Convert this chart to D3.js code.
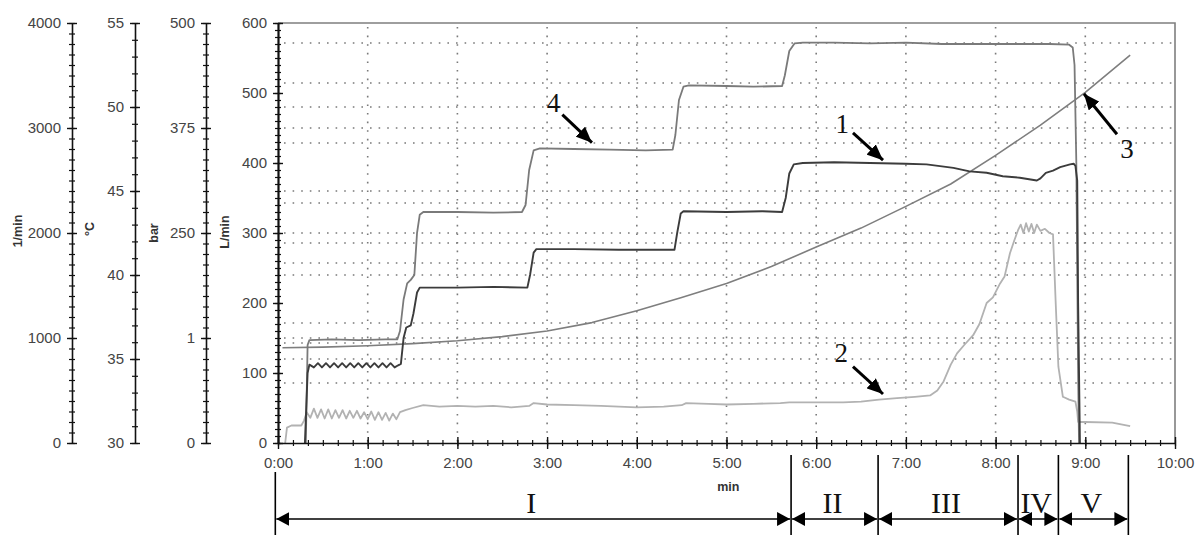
<!DOCTYPE html>
<html><head><meta charset="utf-8">
<script src="https://cdn.jsdelivr.net/npm/d3@7"></script>
<style>body{margin:0;background:#fff}</style>
</head><body><svg id="c" width="1195" height="535"></svg>
<script>
// ---- data (time in minutes, value in L/min-axis units) ----
const series1 = [[0.30,0],[0.33,100],[0.35,112],[0.40,108],[0.445,114],[0.49,108],[0.535,114],[0.58,108],[0.625,114],[0.67,108],[0.715,114],[0.76,108],[0.805,114],[0.85,108],[0.895,114],[0.94,108],[0.985,114],[1.03,108],[1.075,114],[1.12,108],[1.165,114],[1.21,108],[1.255,114],[1.30,108],[1.34,111],[1.37,113],[1.40,150],[1.43,165],[1.48,168],[1.51,185],[1.55,215],[1.58,222],[2.0,222],[2.4,223],[2.78,222],[2.81,240],[2.85,272],[2.88,277],[3.3,277],[3.8,276],[4.42,276],[4.45,300],[4.49,328],[4.52,331],[5.0,330],[5.4,331],[5.62,330],[5.66,350],[5.70,385],[5.75,398],[5.85,400],[6.2,401],[6.6,400],[7.0,399],[7.23,398],[7.53,393],[7.71,388],[7.90,386],[8.08,381],[8.27,379],[8.46,375],[8.50,378],[8.56,386],[8.64,389],[8.72,394],[8.83,398],[8.87,399],[8.89,396],[8.91,375],[8.92,200],[8.94,0]];
const series2 = [[0.08,0],[0.10,22],[0.15,25],[0.26,25],[0.29,32],[0.32,44],[0.36,36],[0.40,49],[0.44,36],[0.48,48],[0.52,35],[0.56,48],[0.60,35],[0.64,47],[0.68,36],[0.72,47],[0.76,35],[0.80,46],[0.84,36],[0.88,46],[0.92,35],[0.96,44],[1.00,34],[1.04,45],[1.08,33],[1.12,44],[1.16,33],[1.20,43],[1.24,32],[1.28,42],[1.32,34],[1.36,44],[1.42,47],[1.50,50],[1.62,54],[1.8,52],[2.0,53],[2.2,52],[2.4,53],[2.6,51],[2.8,53],[2.85,57],[3.0,55],[3.3,54],[3.6,53],[4.0,51],[4.3,52],[4.5,54],[4.55,57],[4.8,56],[5.0,55],[5.3,56],[5.6,57],[5.7,58],[6.0,58],[6.3,58],[6.5,59],[6.7,62],[6.9,64],[7.1,66],[7.27,68],[7.35,75],[7.42,88],[7.5,112],[7.57,128],[7.65,140],[7.75,154],[7.82,170],[7.90,200],[7.97,208],[8.05,228],[8.1,238],[8.16,271],[8.21,290],[8.25,304],[8.28,312],[8.31,300],[8.34,314],[8.37,302],[8.40,313],[8.43,300],[8.46,312],[8.50,303],[8.55,306],[8.60,300],[8.64,298],[8.67,200],[8.70,109],[8.75,66],[8.82,62],[8.89,59],[8.91,45],[8.92,30],[9.0,30],[9.3,29],[9.5,24]];
const series3 = [[0.05,136],[0.5,137],[1.0,139],[1.5,142],[2.0,146],[2.5,152],[3.0,160],[3.5,172],[4.0,189],[4.5,208],[5.0,228],[5.5,252],[6.0,280],[6.5,307],[7.0,338],[7.5,370],[8.0,411],[8.5,454],[9.0,501],[9.5,554]];
const series4 = [[0.31,0],[0.33,140],[0.35,147],[0.6,148],[0.9,147],[1.2,148],[1.33,148],[1.36,160],[1.40,205],[1.44,228],[1.48,233],[1.52,240],[1.55,300],[1.58,326],[1.62,330],[2.0,330],[2.4,329],[2.72,330],[2.76,340],[2.80,390],[2.85,418],[2.92,421],[3.3,420],[3.7,419],[4.1,418],[4.40,419],[4.43,440],[4.47,490],[4.52,509],[4.58,511],[5.0,510],[5.3,509],[5.62,510],[5.65,525],[5.70,560],[5.76,571],[5.85,572],[6.2,572],[6.6,571],[7.0,572],[7.4,570],[7.8,570],[8.2,570],[8.6,570],[8.82,569],[8.86,565],[8.88,540],[8.90,400],[8.91,250],[8.92,100],[8.93,0]];

const xTickLabels = ["0:00","1:00","2:00","3:00","4:00","5:00","6:00","7:00","8:00","9:00","10:00"];
const gridValues = [85.7,120,142.9,150,171.4,240,257.1,285.7,300,342.9,360,428.6,450,480,514.3,571.4];
const phaseBounds = [-0.03,5.72,6.69,8.25,8.70,9.48];
const phaseLabels = ["I","II","III","IV","V"];
const callouts = [
  {label:"4", text:[3.07,473], from:[3.17,469], to:[3.50,429]},
  {label:"1", text:[6.29,443], from:[6.41,443], to:[6.745,404]},
  {label:"2", text:[6.28,116], from:[6.41,109], to:[6.745,70]},
  {label:"3", text:[9.465,407], from:[9.353,441], to:[8.985,499]}
];
const rpmTicks = [0,1000,2000,3000,4000];
const tempTicks = [30,35,40,45,50,55];
const barTicks = [0,125,250,375,500];
const barTickLabels = ["0","1","250","375","500"];
const flowTicks = [0,100,200,300,400,500,600];

// ---- drawing ----
const svg = d3.select("#c");
svg.append("rect").attr("width",1195).attr("height",535).attr("fill","#fff");
const topY = 23, bottomY = 443;
const x = d3.scaleLinear([0,10],[278,1175]);
const y = d3.scaleLinear([0,600],[bottomY,topY]);
const FONT = "'Liberation Sans', Arial, sans-serif";

// grid
const grid = svg.append("g").attr("stroke","#7a7a7a").attr("stroke-width",1.6).attr("stroke-dasharray","1.6,7").attr("fill","none");
grid.selectAll("line.h").data(gridValues).join("line").attr("class","h")
  .attr("x1",x(0)+6).attr("x2",x(10)).attr("y1",d=>y(d)).attr("y2",d=>y(d));
grid.selectAll("line.v").data(d3.range(1,10)).join("line").attr("class","v")
  .attr("x1",d=>x(d)).attr("x2",d=>x(d)).attr("y1",topY+4).attr("y2",bottomY);

// frame top/right
svg.append("path").attr("d",`M${x(0)},${topY}H${x(10)}V${bottomY}`).attr("fill","none").attr("stroke","#7f7f7f").attr("stroke-width",1.6);

// series lines
const line = d3.line().x(d=>x(d[0])).y(d=>y(d[1]));
const lines = [
  {d:series2, c:"#b2b2b2", w:1.8},
  {d:series3, c:"#7e7e7e", w:1.6},
  {d:series4, c:"#7a7a7a", w:1.8},
  {d:series1, c:"#3c3c3c", w:1.9}
];
lines.forEach(l=>svg.append("path").attr("d",line(l.d)).attr("fill","none").attr("stroke",l.c).attr("stroke-width",l.w).attr("stroke-linejoin","round"));

// vertical axes
function vAxis(scale, xPos, major, minor, labels, domW){
  const g = svg.append("g").attr("transform",`translate(${xPos},0)`);
  const gm = g.append("g").call(d3.axisLeft(scale).tickValues(minor).tickFormat("").tickSizeInner(3).tickSizeOuter(0));
  gm.selectAll(".tick line").attr("x1",3).attr("stroke","#111").attr("stroke-width",1.2);
  gm.select(".domain").attr("stroke","#111").attr("stroke-width",domW);
  const gM = g.append("g").call(d3.axisLeft(scale).tickValues(major).tickFormat((d,i)=>labels[i]).tickSizeInner(5).tickSizeOuter(0).tickPadding(6));
  gM.select(".domain").remove();
  gM.selectAll(".tick line").attr("x1",5).attr("stroke","#111").attr("stroke-width",1.4);
  gM.selectAll("text").attr("font-family",FONT).attr("font-size",15).attr("fill","#444");
}
vAxis(d3.scaleLinear([0,4000],[bottomY,topY]),72,rpmTicks,d3.range(0,4001,100),rpmTicks.map(String),1.6);
vAxis(d3.scaleLinear([30,55],[bottomY,topY]),135,tempTicks,d3.range(30,56,1),tempTicks.map(String),1.6);
vAxis(d3.scaleLinear([0,500],[bottomY,topY]),206,barTicks,d3.range(0,501,12.5),barTickLabels,1.6);
vAxis(y,278,flowTicks,d3.range(0,601,10),flowTicks.map(String),2.2);

// axis titles
[["1/min",18,231],["°C",90,229],["bar",154,233],["L/min",225,232]].forEach(([t,tx,ty])=>{
  svg.append("text").attr("transform",`translate(${tx},${ty}) rotate(-90)`).attr("text-anchor","middle")
    .attr("dominant-baseline","central").attr("font-family",FONT).attr("font-weight","bold").attr("font-size",12.5).attr("fill","#333").text(t);
});

// x axis
const gx = svg.append("g").attr("transform",`translate(0,${bottomY})`);
const gxm = gx.append("g").call(d3.axisBottom(x).tickValues(d3.range(0,60.5,1).map(d=>d/6)).tickFormat("").tickSizeInner(3).tickSizeOuter(0));
gxm.selectAll(".tick line").attr("y1",-3).attr("stroke","#111").attr("stroke-width",1.2);
gxm.select(".domain").attr("stroke","#111").attr("stroke-width",1.6);
const gxM = gx.append("g").call(d3.axisBottom(x).tickValues(d3.range(0,11)).tickFormat((d,i)=>xTickLabels[i]).tickSizeInner(6).tickSizeOuter(0).tickPadding(8));
gxM.select(".domain").remove();
gxM.selectAll(".tick line").attr("y1",-6).attr("stroke","#111").attr("stroke-width",1.4);
gxM.selectAll("text").attr("font-family",FONT).attr("font-size",15).attr("fill","#444");
svg.append("text").attr("x",x(5.02)).attr("y",491).attr("text-anchor","middle").attr("font-family",FONT)
  .attr("font-weight","bold").attr("font-size",12.5).attr("fill","#333").text("min");

// markers
const defs = svg.append("defs");
defs.append("marker").attr("id","ah").attr("markerUnits","userSpaceOnUse").attr("viewBox","0 0 14 12")
  .attr("markerWidth",16).attr("markerHeight",14).attr("refX",14).attr("refY",6).attr("orient","auto")
  .append("path").attr("d","M0,0L14,6L0,12Z").attr("fill","#000");
defs.append("marker").attr("id","ph").attr("markerUnits","userSpaceOnUse").attr("viewBox","0 0 13 14")
  .attr("markerWidth",13).attr("markerHeight",14).attr("refX",13).attr("refY",7).attr("orient","auto-start-reverse")
  .append("path").attr("d","M0,0L13,7L0,14Z").attr("fill","#000");

// callouts
const SERIF = "'Liberation Serif','Times New Roman',serif";
callouts.forEach(c=>{
  svg.append("line").attr("x1",x(c.from[0])).attr("y1",y(c.from[1])).attr("x2",x(c.to[0])).attr("y2",y(c.to[1]))
    .attr("stroke","#000").attr("stroke-width",3).attr("marker-end","url(#ah)");
  svg.append("text").attr("x",x(c.text[0])).attr("y",y(c.text[1])).attr("text-anchor","middle")
    .attr("font-family",SERIF).attr("font-size",27).attr("fill","#111").text(c.label);
});

// phases
const arrowY = 519;
phaseBounds.forEach((b,i)=>{
  svg.append("line").attr("x1",x(b)).attr("x2",x(b)).attr("y1",i===0?472:455).attr("y2",535)
    .attr("stroke","#000").attr("stroke-width",1.6);
});
phaseLabels.forEach((lab,i)=>{
  const a = x(phaseBounds[i]), b = x(phaseBounds[i+1]);
  svg.append("line").attr("x1",a+1).attr("x2",b-1).attr("y1",arrowY).attr("y2",arrowY)
    .attr("stroke","#000").attr("stroke-width",1.6).attr("marker-start","url(#ph)").attr("marker-end","url(#ph)");
  svg.append("text").attr("x",(a+b)/2-2).attr("y",513).attr("text-anchor","middle")
    .attr("font-family",SERIF).attr("font-size",30).attr("fill","#111").text(lab);
});
</script></body></html>
